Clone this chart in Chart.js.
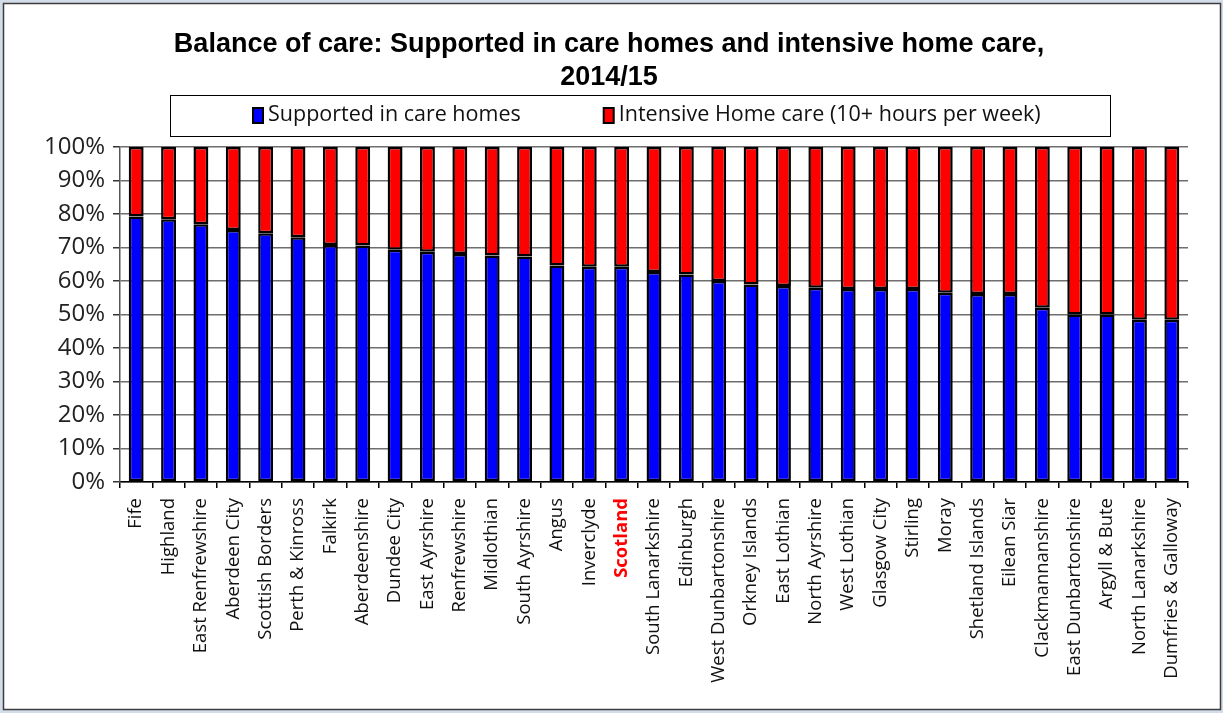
<!DOCTYPE html>
<html lang="en">
<head>
<meta charset="UTF-8" />
<title>Balance of care 2014/15</title>
<script src="https://cdn.jsdelivr.net/npm/chart.js@4"></script>
<style>
  html, body { margin: 0; padding: 0; background: #fff; }
</style>
</head>
<body>
<canvas id="myChart" width="1223" height="713"></canvas>

<script>
const areas = [
    "Fife", "Highland", "East Renfrewshire", "Aberdeen City", "Scottish Borders",
    "Perth & Kinross", "Falkirk", "Aberdeenshire", "Dundee City", "East Ayrshire",
    "Renfrewshire", "Midlothian", "South Ayrshire", "Angus", "Inverclyde",
    "Scotland", "South Lanarkshire", "Edinburgh", "West Dunbartonshire", "Orkney Islands",
    "East Lothian", "North Ayrshire", "West Lothian", "Glasgow City", "Stirling",
    "Moray", "Shetland Islands", "Eilean Siar", "Clackmannanshire", "East Dunbartonshire",
    "Argyll & Bute", "North Lanarkshire", "Dumfries & Galloway"
];
const careHomes = [
    79.2, 78.4, 76.9, 75.2, 74.2, 73.0, 70.7, 70.6, 69.3, 68.7,
    68.0, 67.6, 67.3, 64.6, 64.2, 64.2, 62.7, 61.9, 60.0, 58.9,
    58.5, 58.0, 57.6, 57.6, 57.6, 56.5, 56.1, 56.1, 52.0, 50.0,
    50.0, 48.4, 48.4
];
const intensiveHomeCare = [
    20.8, 21.6, 23.1, 24.8, 25.8, 27.0, 29.3, 29.4, 30.7, 31.3,
    32.0, 32.4, 32.7, 35.4, 35.8, 35.8, 37.3, 38.1, 40.0, 41.1,
    41.5, 42.0, 42.4, 42.4, 42.4, 43.5, 43.9, 43.9, 48.0, 50.0,
    50.0, 51.6, 51.6
];
const percentTicks = ["0%", "10%", "20%", "30%", "40%", "50%", "60%", "70%", "80%", "90%", "100%"];
const seriesNames = ["Supported in care homes", "Intensive Home care (10+ hours per week)"];
const highlightArea = "Scotland";

// white card with a thin frame, like the pasted Excel chart
const framePlugin = {
    id: "frame",
    beforeDraw(chart) {
        const ctx = chart.ctx;
        ctx.save();
        ctx.fillStyle = "#d3dde9";
        ctx.fillRect(0, 0, chart.width, chart.height);
        ctx.fillStyle = "#ffffff";
        ctx.fillRect(3, 3, chart.width - 5, chart.height - 6);
        ctx.strokeStyle = "#3c3c3c";
        ctx.lineWidth = 1.5;
        ctx.strokeRect(3.5, 3.5, chart.width - 6, chart.height - 7);
        ctx.restore();
    },
};

// boxed legend drawn in the gap left under the title
const boxedLegendPlugin = {
    id: "boxedLegend",
    afterDraw(chart) {
        const ctx = chart.ctx;
        ctx.save();
        ctx.strokeStyle = "#000";
        ctx.lineWidth = 1;
        ctx.strokeRect(170.5, 95.5, 940, 41);

        ctx.font = "21.5px 'Open Sans'";
        ctx.textBaseline = "middle";
        let x = 253;
        chart.data.datasets.forEach((ds) => {
            ctx.fillStyle = ds.backgroundColor;
            ctx.fillRect(x, 108, 10, 15);
            ctx.strokeStyle = "#000";
            ctx.lineWidth = 2;
            ctx.strokeRect(x, 108, 10, 15);
            ctx.fillStyle = "#111";
            ctx.fillText(ds.label, x + 15, 115);
            x += 15 + ctx.measureText(ds.label).width + 83;
        });
        ctx.restore();
    },
};

Chart.register(framePlugin, boxedLegendPlugin);

const config = {
    type: "bar",
    data: {
        labels: areas,
        datasets: [
            {
                label: seriesNames[0],
                data: careHomes,
                backgroundColor: "#0000ff",
                borderColor: "#000000",
                borderWidth: 2.5,
                borderSkipped: false,
                barPercentage: 0.46,
                categoryPercentage: 1.0,
            },
            {
                label: seriesNames[1],
                data: intensiveHomeCare,
                backgroundColor: "#ff0000",
                borderColor: "#000000",
                borderWidth: 2.5,
                borderSkipped: false,
                barPercentage: 0.46,
                categoryPercentage: 1.0,
            },
        ],
    },
    options: {
        responsive: false,
        animation: false,
        layout: {
            padding: { left: 30, right: 35, top: 0, bottom: 10 },
        },
        plugins: {
            legend: { display: false },
            tooltip: { enabled: false },
            title: {
                display: true,
                text: [
                    "Balance of care: Supported in care homes and intensive home care,",
                    "2014/15",
                ],
                color: "#000",
                font: {
                    family: "'Liberation Sans', sans-serif",
                    size: 27,
                    weight: "bold",
                    lineHeight: 1.22,
                },
                padding: { top: 28, bottom: 53 },
            },
        },
        scales: {
            x: {
                stacked: true,
                afterFit(scale) {
                    scale.height = 221;
                },
                grid: {
                    offset: true,
                    drawOnChartArea: false,
                    drawTicks: true,
                    tickLength: 6,
                    color: "#000",
                    lineWidth: 1.5,
                },
                border: { color: "#000", width: 1.5 },
                ticks: {
                    autoSkip: false,
                    minRotation: 90,
                    maxRotation: 90,
                    padding: 10,
                    color: (c) => (areas[c.index] === highlightArea ? "#ff0000" : "#111"),
                    font: (c) => ({
                        family: "'Open Sans', sans-serif",
                        size: 18.5,
                        weight: areas[c.index] === highlightArea ? "bold" : "normal",
                    }),
                },
            },
            y: {
                stacked: true,
                min: 0,
                max: 100,
                afterFit(scale) {
                    scale.width = 90;
                },
                grid: {
                    color: "#6e6e6e",
                    tickColor: "#333",
                    lineWidth: 1.5,
                    tickLength: 7,
                },
                border: { color: "#555", width: 1.5 },
                ticks: {
                    stepSize: 10,
                    padding: 8,
                    color: "#222",
                    font: { family: "'Open Sans', sans-serif", size: 24 },
                    callback: (value, index) => percentTicks[index],
                },
            },
        },
    },
};

const myChart = new Chart(document.getElementById("myChart"), config);
</script>
</body>
</html>
